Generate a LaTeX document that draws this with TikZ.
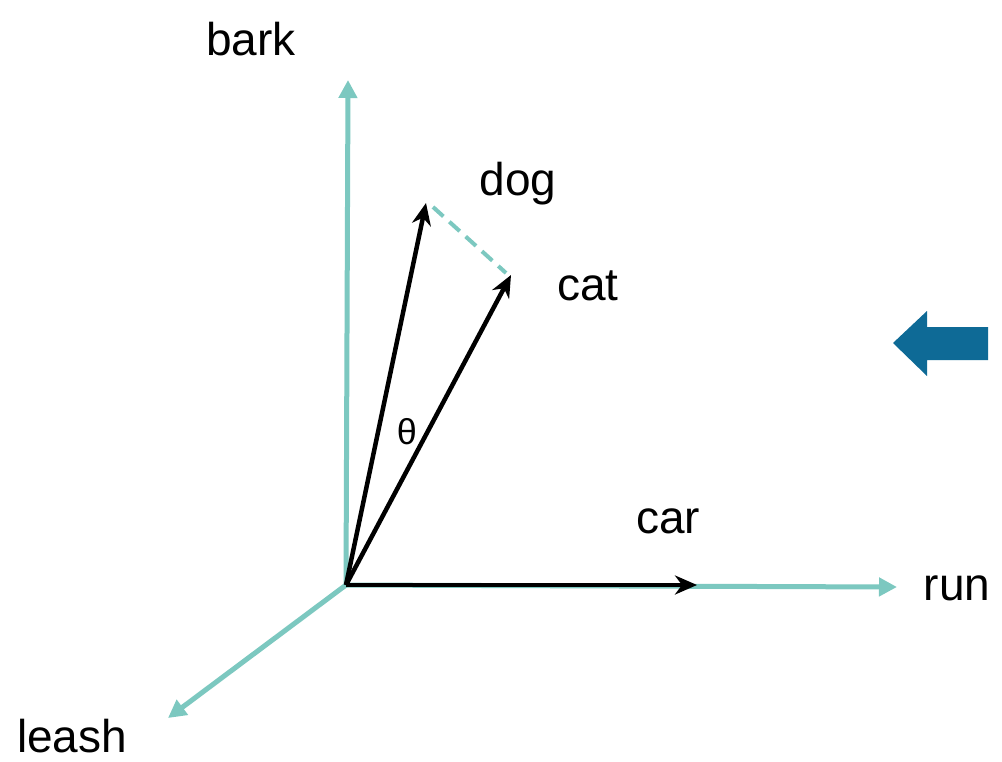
\documentclass[tikz,border=0pt]{standalone}
\usepackage{fontspec}
\setmainfont{Liberation Sans}
\usetikzlibrary{arrows.meta}
\definecolor{teal1}{HTML}{7CC8C0}
\definecolor{bluearrow}{HTML}{0E6A96}
\tikzset{
  axis/.style={draw=teal1, line width=5pt, -{Triangle[length=18pt,width=18pt]}},
  vec/.style={draw=black, line width=4.5pt, -{Stealth[length=22pt,width=19pt,inset=7pt]}},
  lbl/.style={font=\fontsize{46}{54}\selectfont, anchor=base, inner sep=0pt},
}
\begin{document}
\begin{tikzpicture}[x=1pt,y=-1pt]
\useasboundingbox (0,0) rectangle (1002,761);
\fill[white] (0,0) rectangle (1002,761);
\coordinate (o) at (346,585);
\coordinate (barkend) at (348,80);
\coordinate (runend) at (897,587);
\coordinate (leashend) at (168,718);
\coordinate (dogend) at (426,203);
\coordinate (catend) at (511,275);
\coordinate (carend) at (697,585);
\coordinate (dogtip) at (433,207);
\coordinate (cattip) at (506,273);
% axes
\draw[axis] (o) -- (barkend);
\draw[axis] (o) -- (runend);
\draw[axis] (o) -- (leashend);
% dashed
\draw[teal1, line width=4pt, dash pattern=on 14pt off 8pt] (dogtip) -- (cattip);
% vectors
\draw[vec] (o) -- (dogend);
\draw[vec] (o) -- (catend);
\draw[vec] (o) -- (carend);
% labels
\node[lbl] (bark) at (251,55) {bark};
\node[lbl] (dog) at (518,195) {dog};
\node[lbl] (cat) at (588,300) {cat};
\node[lbl] (car) at (668,533) {car};
\node[lbl] (run) at (957,600) {run};
\node[lbl] (leash) at (72,752) {leash};
\node[font=\fontsize{36}{42}\selectfont, inner sep=0pt] (theta) at (407,432) {θ};
% blue arrow
\fill[bluearrow] (893,343) -- (927,311) -- (927,327) -- (988,327) -- (988,360) -- (927,360) -- (927,376) -- cycle;
\end{tikzpicture}
\end{document}
